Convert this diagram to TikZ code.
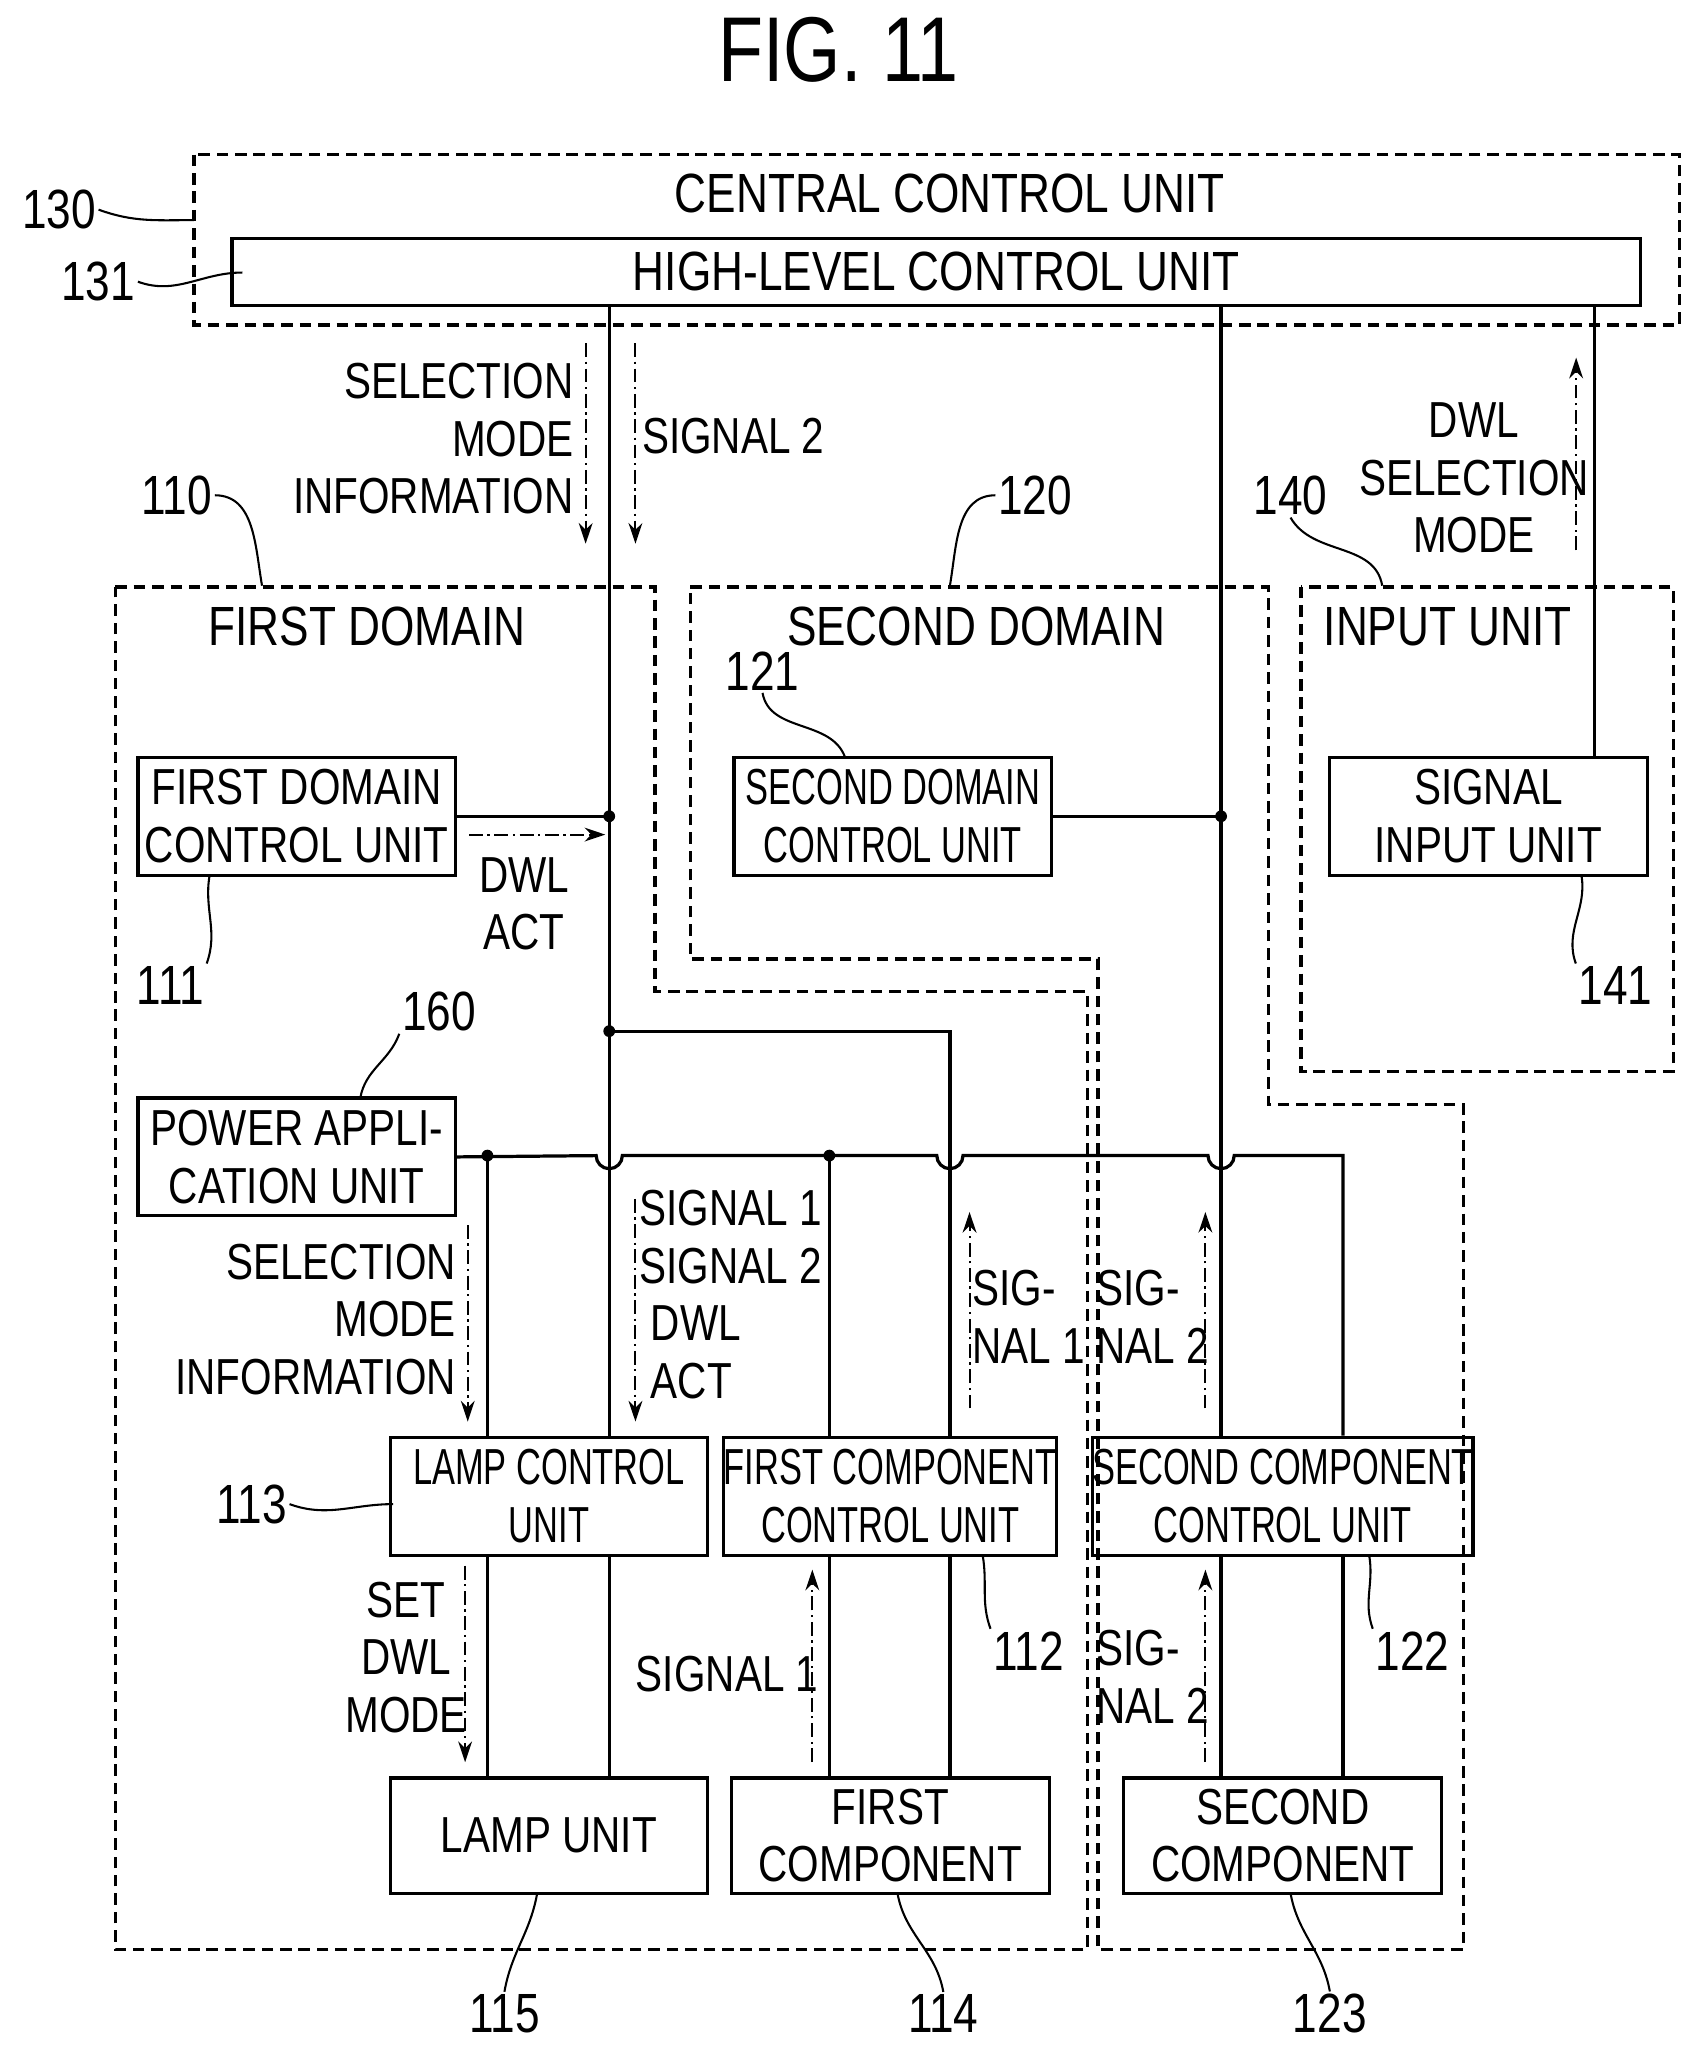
\documentclass[tikz,border=0pt]{standalone}
\usepackage{fontspec}
\setmainfont[FakeStretch=0.8]{Liberation Sans}
\usetikzlibrary{arrows.meta}
\begin{document}
\begin{tikzpicture}[x=0.02cm,y=-0.02cm,
  txt/.style={font=\fontsize{22}{25}\selectfont, align=center, inner sep=1pt},
  box/.style={draw, line width=1.4pt, txt, minimum width=4.85cm, minimum height=1.8cm},
  narrow/.style={font=\fontsize{22}{25}\selectfont\addfontfeature{FakeStretch=0.68}, inner sep=0pt},
  dom/.style={draw, line width=1.4pt, dashed, dash pattern=on 5pt off 3pt},
  wire/.style={line width=1.4pt},
  sig/.style={line width=0.9pt, dash pattern=on 6pt off 2pt on 1pt off 2pt, -{Stealth[length=9pt,width=6pt]}},
  lead/.style={line width=0.9pt},
  num/.style={font=\fontsize{24}{26}\selectfont, inner sep=1pt}]
\useasboundingbox (0,0) rectangle (1300,1570);
\node[font=\fontsize{40}{44}\selectfont] (fig) at (640,38) {FIG. 11};
% domains
\draw[dom] (148,118) rectangle (1282,248);
\draw[dom] (88,448) -- (500,448) -- (500,757) -- (830,757) -- (830,1488) -- (88,1488) -- cycle;
\draw[dom] (527,448) -- (968,448) -- (968,843) -- (1117,843) -- (1117,1488) -- (838,1488) -- (838,732) -- (527,732) -- cycle;
\draw[dom] (993,448) rectangle (1277,818);
\node[txt, font=\fontsize{24}{26}\selectfont] (ccu) at (725,148) {CENTRAL CONTROL UNIT};
\node[txt, font=\fontsize{24}{26}\selectfont] (fd) at (280,478) {FIRST DOMAIN};
\node[txt, font=\fontsize{24}{26}\selectfont] (sd) at (745,478) {SECOND DOMAIN};
\node[txt, font=\fontsize{24}{26}\selectfont] (iu) at (1105,478) {INPUT UNIT};
% boxes
\node[box, minimum width=21.5cm, minimum height=1.02cm, font=\fontsize{24}{26}\selectfont] (hl) at (714.5,207.5) {HIGH-LEVEL CONTROL UNIT};
\node[box] (fdc) at (226.5,623) {FIRST DOMAIN\\CONTROL UNIT};
\node[box, narrow] (sdc) at (681.5,623) {SECOND DOMAIN\\CONTROL UNIT};
\node[box] (siu) at (1136,623) {SIGNAL\\INPUT UNIT};
\node[box] (pau) at (226.5,883) {POWER APPLI-\\CATION UNIT};
\node[box, narrow] (lcu) at (419,1142) {LAMP CONTROL\\UNIT};
\node[box, narrow] (fcc) at (679.5,1142) {FIRST COMPONENT\\CONTROL UNIT};
\node[box, narrow] (scc) at (979,1142) {SECOND COMPONENT\\CONTROL UNIT};
\node[box, minimum height=1.76cm] (lu) at (419,1401) {LAMP UNIT};
\node[box, minimum height=1.76cm] (fc) at (679.5,1401) {FIRST\\COMPONENT};
\node[box, minimum height=1.76cm] (sc) at (979,1401) {SECOND\\COMPONENT};
% junctions
\coordinate (j1) at (465,623);
\coordinate (j2) at (932,623);
\coordinate (j3) at (465,787);
\coordinate (p1) at (372,882);
\coordinate (p2) at (633,882);
\foreach \j in {j1,j2,j3,p1,p2} \fill (\j) circle (4.5);
% wires
\draw[wire] (hl.south -| j1) -- (lcu.north -| j1);
\draw[wire] (hl.south -| j2) -- (scc.north -| j2);
\draw[wire] (hl.south -| 1217,0) -- (siu.north -| 1217,0);
\draw[wire] (fdc.east) -- (j1);
\draw[wire] (sdc.east) -- (j2);
\draw[wire] (j3) -- (725,787) -- (fcc.north -| 725,0);
\draw[wire] (pau.east) -- (455,882) arc (180:0:10) -- (715,882) arc (180:0:10) -- (922,882) arc (180:0:10) -- (1025,882) -- (scc.north -| 1025,0);
\draw[wire] (p1) -- (lcu.north -| p1);
\draw[wire] (p2) -- (fcc.north -| p2);
\foreach \x in {372,465} \draw[wire] (lcu.south -| \x,0) -- (lu.north -| \x,0);
\foreach \x in {633,725} \draw[wire] (fcc.south -| \x,0) -- (fc.north -| \x,0);
\foreach \x in {932,1025} \draw[wire] (scc.south -| \x,0) -- (sc.north -| \x,0);
% signals
\draw[sig] (447,262) -- (447,415);
\draw[sig] (485,262) -- (485,415);
\draw[sig] (1203,420) -- (1203,273);
\draw[sig] (358,637) -- (462,637);
\draw[sig] (357,935) -- (357,1085);
\draw[sig] (485,915) -- (485,1085);
\draw[sig] (740,1075) -- (740,925);
\draw[sig] (920,1075) -- (920,925);
\draw[sig] (355,1195) -- (355,1345);
\draw[sig] (620,1345) -- (620,1198);
\draw[sig] (920,1345) -- (920,1198);
\node[txt, align=right, anchor=east] (t1) at (440,335) {SELECTION\\MODE\\INFORMATION};
\node[txt, anchor=west] (t2) at (488,333) {SIGNAL 2};
\node[txt] (t3) at (1125,365) {DWL\\SELECTION\\MODE};
\node[txt] (t4) at (400,690) {DWL\\ACT};
\node[txt, align=right, anchor=east] (t5) at (350,1007) {SELECTION\\MODE\\INFORMATION};
\node[txt, align=left, anchor=west] (t6) at (486,988) {SIGNAL 1\\SIGNAL 2\\\ DWL\\\ ACT};
\node[txt, align=left] (t7) at (785,1005) {SIG-\\NAL 1};
\node[txt, align=left] (t8) at (880,1005) {SIG-\\NAL 2};
\node[txt] (t9) at (310,1265) {SET\\DWL\\MODE};
\node[txt] (t10) at (555,1278) {SIGNAL 1};
\node[txt, align=left] (t11) at (880,1280) {SIG-\\NAL 2};
% reference numbers
\node[num] (n130) at (45,160) {130};
\node[num] (n131) at (75,215) {131};
\node[num] (n110) at (135,378) {110};
\node[num] (n120) at (790,378) {120};
\node[num] (n140) at (985,378) {140};
\node[num] (n121) at (582,512) {121};
\node[num] (n111) at (130,752) {111};
\node[num] (n141) at (1233,752) {141};
\node[num] (n160) at (335,772) {160};
\node[num] (n113) at (192,1148) {113};
\node[num] (n112) at (785,1260) {112};
\node[num] (n122) at (1078,1260) {122};
\node[num] (n115) at (385,1537) {115};
\node[num] (n114) at (720,1537) {114};
\node[num] (n123) at (1015,1537) {123};
\draw[lead] (n130.east) to[out=-20,in=180] (148,168);
\draw[lead] (n131.east) to[out=-20,in=180] (185,208);
\draw[lead] (n110.east) to[out=0,in=100] (200,447);
\draw[lead] (n120.west) to[out=180,in=80] (725,447);
\draw[lead] (n140.south) to[out=-60,in=100] (1055,447);
\draw[lead] (n121.south) to[out=-80,in=110] (645,578);
\draw[lead] (n111.north east) to[out=70,in=-100] (160,668);
\draw[lead] (n141.north west) to[out=110,in=-80] (1207,668);
\draw[lead] (n160.south west) to[out=-110,in=80] (275,838);
\draw[lead] (n113.east) to[out=-20,in=180] (300,1148);
\draw[lead] (n112.north west) to[out=110,in=-80] (750,1187);
\draw[lead] (n122.north west) to[out=110,in=-80] (1045,1187);
\draw[lead] (n115.north) to[out=80,in=-100] (410,1445);
\draw[lead] (n114.north) to[out=100,in=-80] (685,1445);
\draw[lead] (n123.north) to[out=100,in=-80] (985,1445);
\end{tikzpicture}
\end{document}
